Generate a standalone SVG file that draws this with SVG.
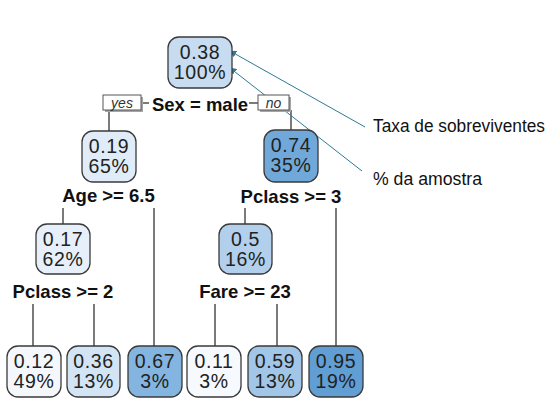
<svg xmlns="http://www.w3.org/2000/svg" width="559" height="401" viewBox="0 0 559 401">
<style>
.node rect{stroke:#3a3a3a;stroke-width:1.3}
.node text{font-family:"Liberation Sans",Arial,sans-serif;font-size:19.5px;letter-spacing:0.6px;fill:#222;text-anchor:middle}
.split{font-family:"Liberation Sans",Arial,sans-serif;font-size:18.5px;font-weight:bold;fill:#111;text-anchor:middle}
.edge{stroke:#333;stroke-width:1.3;fill:none}
.yn rect.b{fill:#fff;stroke:#555;stroke-width:1}
.yn rect.s{fill:#a5a5a5}
.yn text{font-family:"Liberation Sans",Arial,sans-serif;font-size:14px;font-style:italic;fill:#333;text-anchor:middle}
.ann{stroke:#2f7896;stroke-width:1;fill:none;marker-end:url(#ah)}
.annt{font-family:"Liberation Sans",Arial,sans-serif;font-size:17.5px;fill:#111}
</style>
<defs>
<marker id="ah" viewBox="0 0 10 10" refX="9" refY="5" markerWidth="7" markerHeight="7" orient="auto" markerUnits="userSpaceOnUse">
<path d="M0,0 L10,5 L0,10 z" fill="#2f7896"/>
</marker>
</defs>
<rect width="559" height="401" fill="#fff"/>
<g id="connectors">
<line class="edge" x1="141" y1="103" x2="149" y2="103"/>
<line class="edge" x1="249" y1="103" x2="258" y2="103"/>
<line class="edge" x1="109" y1="110" x2="109" y2="131"/>
<line class="edge" x1="291" y1="110" x2="291" y2="130"/>
<line class="edge" x1="63" y1="208" x2="63" y2="224"/>
<line class="edge" x1="154" y1="208" x2="154" y2="346"/>
<line class="edge" x1="245" y1="208" x2="245" y2="224"/>
<line class="edge" x1="336" y1="208" x2="336" y2="346"/>
<line class="edge" x1="33" y1="304" x2="33" y2="346"/>
<line class="edge" x1="94" y1="304" x2="94" y2="346"/>
<line class="edge" x1="215" y1="304" x2="215" y2="346"/>
<line class="edge" x1="277" y1="304" x2="277" y2="346"/>
<line class="ann" x1="365" y1="127" x2="230" y2="51"/>
<line class="ann" x1="362" y1="171" x2="230" y2="68"/>
</g>
<g id="yes" class="yn"><rect class="s" x="105" y="97" width="38" height="15"/><rect class="b" x="103" y="95" width="38" height="15"/><text x="122" y="107.5">yes</text></g>
<g id="no" class="yn"><rect class="s" x="260" y="97" width="31" height="15"/><rect class="b" x="258" y="95" width="31" height="15"/><text x="273.5" y="107.5">no</text></g>
<g id="n1" class="node"><rect x="168" y="37" width="64" height="51" rx="11" fill="#c8dcf1"/><text x="200" y="59">0.38</text><text x="200" y="79">100%</text></g>
<text id="s1" class="split" x="200" y="111">Sex = male</text>
<g id="n2" class="node"><rect x="82" y="131" width="54" height="51" rx="11" fill="#e0ecf8"/><text x="109" y="153">0.19</text><text x="109" y="173">65%</text></g>
<text id="s2" class="split" x="108.5" y="202">Age &gt;= 6.5</text>
<g id="n3" class="node"><rect x="264" y="130" width="54" height="52" rx="11" fill="#70a8d9"/><text x="291" y="152">0.74</text><text x="291" y="172">35%</text></g>
<text id="s3" class="split" x="291" y="203">Pclass &gt;= 3</text>
<g id="n4" class="node"><rect x="36" y="224" width="54" height="50" rx="11" fill="#e7f0fa"/><text x="63" y="246">0.17</text><text x="63" y="266">62%</text></g>
<text id="s4" class="split" x="63" y="298">Pclass &gt;= 2</text>
<g id="n5" class="node"><rect x="219" y="224" width="53" height="50" rx="11" fill="#b2cfec"/><text x="245.5" y="246">0.5</text><text x="245.5" y="266">16%</text></g>
<text id="s5" class="split" x="245" y="298">Fare &gt;= 23</text>
<g id="n6" class="node"><rect x="7" y="346" width="54" height="51" rx="11" fill="#f4f8fd"/><text x="34" y="368">0.12</text><text x="34" y="388">49%</text></g>
<g id="n7" class="node"><rect x="67" y="346" width="53" height="51" rx="11" fill="#d3e4f5"/><text x="93.5" y="368">0.36</text><text x="93.5" y="388">13%</text></g>
<g id="n8" class="node"><rect x="128" y="346" width="54" height="51" rx="11" fill="#84b5e0"/><text x="155" y="368">0.67</text><text x="155" y="388">3%</text></g>
<g id="n9" class="node"><rect x="187" y="346" width="54" height="51" rx="11" fill="#f6f9fe"/><text x="214" y="368">0.11</text><text x="214" y="388">3%</text></g>
<g id="n10" class="node"><rect x="248" y="346" width="54" height="51" rx="11" fill="#a1c6e8"/><text x="275" y="368">0.59</text><text x="275" y="388">13%</text></g>
<g id="n11" class="node"><rect x="309" y="346" width="54" height="51" rx="11" fill="#609ed3"/><text x="336" y="368">0.95</text><text x="336" y="388">19%</text></g>
<g id="annotations">
<text class="annt" x="373" y="132" textLength="172" lengthAdjust="spacingAndGlyphs">Taxa de sobreviventes</text>
<text class="annt" x="373" y="185" textLength="109" lengthAdjust="spacingAndGlyphs">% da amostra</text>
</g>
</svg>
